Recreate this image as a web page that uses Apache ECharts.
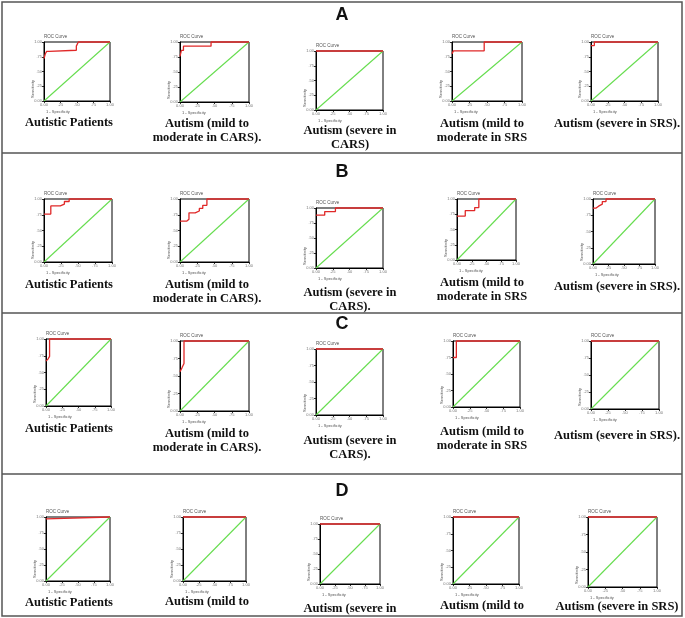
<!DOCTYPE html>
<html>
<head>
<meta charset="utf-8">
<script src="https://cdn.jsdelivr.net/npm/echarts@6/dist/echarts.min.js"></script>
<style>
html,body{margin:0;padding:0;background:#fff;}
#chart{width:685px;height:618px;}
</style>
</head>
<body>
<div id="chart"></div>
<script>
// ---- data ----
const rowLabels = ['A', 'B', 'C', 'D'];
const tickValues = [0, 0.25, 0.5, 0.75, 1];
const diagonal = [[0, 0], [1, 1]];

const captionsA = [['Autistic Patients'], ['Autism (mild to', 'moderate in CARS).'], ['Autism (severe in', 'CARS)'], ['Autism (mild to', 'moderate in SRS'], ['Autism (severe in SRS).']];
const captionsB = [['Autistic Patients'], ['Autism (mild to', 'moderate in CARS).'], ['Autism (severe in', 'CARS).'], ['Autism (mild to', 'moderate in SRS'], ['Autism (severe in SRS).']];
const captionsC = [['Autistic Patients'], ['Autism (mild to', 'moderate in CARS).'], ['Autism (severe in', 'CARS).'], ['Autism (mild to', 'moderate in SRS'], ['Autism (severe in SRS).']];
const captionsD = [['Autistic Patients'], ['Autism (mild to'], ['Autism (severe in'], ['Autism (mild to'], ['Autism (severe in SRS)']];

const rocA = [
  [[0,0.72],[0.02,0.72],[0.02,0.80],[0.04,0.80],[0.04,0.84],[0.08,0.84],[0.08,0.86],[0.49,0.86],[0.49,0.93],[0.52,0.93],[0.52,1],[1,1]],
  [[0,0.76],[0.02,0.76],[0.02,0.86],[0.05,0.86],[0.05,0.93],[0.45,0.93],[0.45,1],[1,1]],
  [[0,1],[1,1]],
  [[0,0.80],[0.02,0.80],[0.02,0.85],[0.46,0.85],[0.46,1],[1,1]],
  [[0,0.94],[0.05,0.94],[0.05,1],[1,1]]
];
const rocB = [
  [[0,0.76],[0.10,0.76],[0.10,0.89],[0.24,0.89],[0.24,0.92],[0.30,0.92],[0.30,0.96],[0.37,0.96],[0.37,1],[1,1]],
  [[0,0.65],[0.10,0.65],[0.10,0.68],[0.13,0.68],[0.13,0.78],[0.22,0.78],[0.22,0.81],[0.28,0.81],[0.28,0.85],[0.33,0.85],[0.33,0.90],[0.39,0.90],[0.39,1],[1,1]],
  [[0,0.88],[0.13,0.88],[0.13,0.94],[0.29,0.94],[0.29,1],[1,1]],
  [[0,0.72],[0.14,0.72],[0.14,0.81],[0.30,0.81],[0.30,0.86],[0.37,0.86],[0.37,1],[1,1]],
  [[0,0.86],[0.05,0.86],[0.05,0.89],[0.09,0.89],[0.09,0.92],[0.15,0.92],[0.15,0.96],[0.21,0.96],[0.21,1],[1,1]]
];
const rocC = [
  [[0,0.67],[0.03,0.70],[0.055,0.74],[0.055,1],[1,1]],
  [[0,0.56],[0.03,0.62],[0.058,0.68],[0.058,1],[1,1]],
  [[0,1],[1,1]],
  [[0,0.75],[0.05,0.75],[0.05,1],[1,1]],
  [[0,1],[1,1]]
];
const rocD = [
  [[0,0.97],[0.02,0.97],[0.02,1],[1,1]],
  [[0,1],[1,1]],
  [[0,1],[1,1]],
  [[0,1],[1,1]],
  [[0,1],[1,1]]
];

// ---- layout (pixel boxes of each plot: left, top, right, bottom) ----
const boxes = [
  [[44,42,110,101],[180,42,249,102],[316,51,383,110],[452,42,522,101],[591,42,658,101]],
  [[44,199,112,262],[180,199,249,262],[316,208,383,268],[457,199,516,260],[593,199,655,264]],
  [[46,339,111,406],[180,341,249,411],[316,349,383,415],[453,341,520,407],[591,341,659,409]],
  [[46,517,110,581],[183,517,246,581],[320,524,380,584],[453,517,519,584],[588,517,657,587]]
];
const captionX = [69, 207, 350, 482, 617];
const captionY = [[123,124,131,124,124],[285,285,293,283,287],[429,434,441,432,436],[603,602,609,606,607]];
const rowLabelY = [15, 172, 324, 491];
const separatorsY = [153, 313, 474];

const rocs = [rocA, rocB, rocC, rocD];
const captions = [captionsA, captionsB, captionsC, captionsD];

const chart = echarts.init(document.getElementById('chart'), null, {renderer: 'canvas'});

const grids = [], xAxes = [], yAxes = [], series = [], graphics = [];
const fmt = v => v === 0 ? '0.00' : (v === 1 ? '1.00' : ('.' + Math.round(v * 100)));
const tinyLabel = {fontSize: 4, color: '#777', margin: 2, formatter: fmt, fontFamily: 'Liberation Sans'};

let idx = 0;
for (let r = 0; r < 4; r++) {
  for (let c = 0; c < 5; c++) {
    const [l, t, rr, b] = boxes[r][c];
    grids.push({left: l, top: t, width: rr - l, height: b - t, show: true, borderColor: '#000', borderWidth: 1, backgroundColor: '#fff', outerBoundsMode: 'none'});
    const axisCommon = {
      gridIndex: idx, type: 'value', min: 0, max: 1, interval: 0.25,
      axisLine: {show: true, onZero: false, lineStyle: {color: '#000', width: 1}},
      axisTick: {show: true, length: 2, lineStyle: {color: '#000', width: 0.8}},
      axisLabel: tinyLabel,
      splitLine: {show: false}
    };
    xAxes.push(Object.assign({}, axisCommon));
    yAxes.push(Object.assign({}, axisCommon));
    series.push({type: 'line', xAxisIndex: idx, yAxisIndex: idx, data: diagonal, symbol: 'none', silent: true,
      lineStyle: {color: '#66dd4f', width: 1.1}, z: 2});
    series.push({type: 'line', xAxisIndex: idx, yAxisIndex: idx, data: rocs[r][c], symbol: 'none', silent: true,
      lineStyle: {color: '#e02828', width: 1.3}, z: 3, clip: false});

    // small texts
    graphics.push({type: 'text', x: l, y: t - 5, style: {text: 'ROC Curve', font: '4.5px "Liberation Sans"', fill: '#555', textAlign: 'left', textVerticalAlign: 'middle'}});
    graphics.push({type: 'text', x: l - 11, y: b - 3, rotation: Math.PI / 2, style: {text: 'Sensitivity', font: '4px "Liberation Sans"', fill: '#555', textAlign: 'left', textVerticalAlign: 'middle'}});
    graphics.push({type: 'text', x: l + 2, y: b + 11, style: {text: '1 - Specificity', font: '4px "Liberation Sans"', fill: '#555', textAlign: 'left', textVerticalAlign: 'middle'}});

    // captions
    const lines = captions[r][c];
    lines.forEach((txt, k) => {
      graphics.push({type: 'text', x: captionX[c], y: captionY[r][c] + k * 14, style: {text: txt, font: 'bold 12.5px "Liberation Serif"', fill: '#111', textAlign: 'center', textVerticalAlign: 'middle'}});
    });
    idx++;
  }
  graphics.push({type: 'text', x: 342, y: rowLabelY[r], style: {text: rowLabels[r], font: 'bold 18px "Liberation Sans"', fill: '#111', textAlign: 'center', textVerticalAlign: 'middle'}});
}

// frame and separators
graphics.push({type: 'rect', shape: {x: 2, y: 2, width: 680, height: 614}, style: {fill: 'none', stroke: '#555', lineWidth: 1.5}, z: 10});
separatorsY.forEach(y => {
  graphics.push({type: 'line', shape: {x1: 2, y1: y, x2: 682, y2: y}, style: {stroke: '#555', lineWidth: 1.5}, z: 10});
});

chart.setOption({
  backgroundColor: '#fff',
  animation: false,
  grid: grids,
  xAxis: xAxes,
  yAxis: yAxes,
  series: series,
  graphic: {elements: graphics}
});
</script>
</body>
</html>
